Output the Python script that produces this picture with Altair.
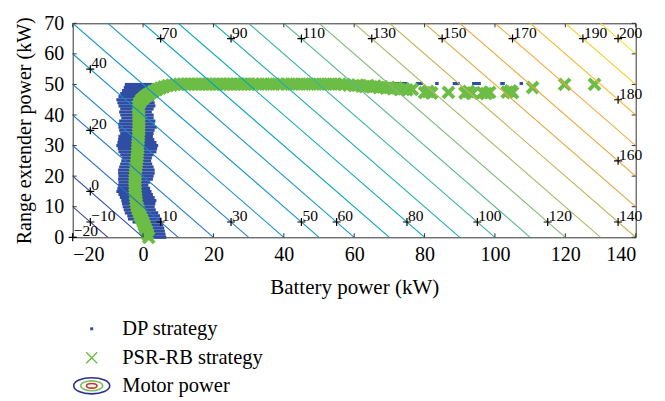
import altair as alt
import pandas as pd

# ---------------- data ----------------
x_ticks = [-20, 0, 20, 40, 60, 80, 100, 120, 140]
y_ticks = [0, 10, 20, 30, 40, 50, 60, 70]

# motor power contour levels (kW): battery + range extender = level
levels = [-10, 0, 10, 20, 30, 40, 50, 60, 70, 80, 90, 100, 110,
          120, 130, 140, 150, 160, 170, 180, 190, 200]

# contour labels
lab_x = [-20, -15, -15, -15, -15, 5, 25, 45, 55, 75, 95, 115, 135, 135, 135, 135,
         5, 25, 45, 65, 85, 105, 125]
lab_y = [0, 5, 15, 35, 55, 5, 5, 5, 5, 5, 5, 5, 5, 25, 45, 65,
         65, 65, 65, 65, 65, 65, 65]
lab_text = ["\u221220", "\u221210", "0", "20", "40", "10", "30", "50", "60", "80", "100",
            "120", "140", "160", "180", "200", "70", "90", "110", "130", "150", "170", "190"]

# DP strategy operating points (rows of the dense cloud + sparse dashes)
dp_y = [0, 1, 2, 3, 4, 5, 6, 7, 8, 9, 10, 11, 12, 13, 14, 15, 16, 17, 18, 19, 20,
        21, 22, 23, 24, 25, 26, 27, 28, 29, 30, 31, 32, 33, 34, 35, 36, 37, 38, 39, 40,
        41, 42, 43, 44, 45, 46, 47, 48, 49, 50,
        50.3, 50.3, 50.3, 50.3, 50.3, 50.3, 50.3]
dp_x1 = [2.5, 2.0, 1.5, 1.0, -1.0, -3.0, -4.3, -4.5, -5.2, -5.5, -5.8, -6.0, -6.2, -6.6,
         -7.0, -7.6, -7.3, -7.1, -7.0, -7.1, -7.0, -7.1, -7.1, -6.8, -6.5, -6.2, -6.0, -6.5,
         -7.0, -7.2, -7.6, -7.3, -7.1, -7.0, -6.5, -6.8, -7.0, -7.1, -6.8, -6.2, -6.5, -6.8,
         -6.5, -7.0, -7.3, -7.6, -7.0, -6.5, -6.0, -5.5, -5.2,
         69.5, 77.5, 83.0, 88.0, 93.5, 101.5, 107.0]
dp_x2 = [6.6, 6.4, 6.2, 6.0, 5.7, 5.4, 5.2, 4.8, 4.3, 3.6, 3.3, 3.5, 3.8, 3.3, 2.8, 2.4,
         2.0, 1.5, 2.0, 2.8, 3.0, 3.3, 3.3, 3.0, 2.6, 2.3, 2.5, 3.0, 3.8, 4.0, 4.3, 3.8, 3.2,
         2.8, 3.0, 3.3, 3.9, 3.3, 3.5, 3.0, 3.0, 2.5, 3.0, 3.5, 3.3, 3.0, 3.5, 3.9, 4.0,
         3.5, 3.0,
         75.0, 79.5, 84.0, 90.0, 96.0, 102.8, 108.0]

# PSR-RB strategy operating points
psr_x = [1.6, 1.3, 1.0, 0.6, 0.3, 0.0, -0.4, -0.8, -1.1, -1.4, -1.7, -1.9, -2.0, -2.1,
         -2.2, -2.2, -2.3, -2.3, -2.3, -2.3, -2.2, -2.2, -2.1, -2.0, -1.9, -1.8, -1.7, -1.6,
         -1.6, -1.5, -1.5, -1.4, -1.4, -1.3, -1.3, -1.2, -1.2, -1.2, -1.2, -1.2, -1.2, -1.2,
         -1.3,
         -1.4, -1.0, -0.4, 0.4, 1.2, 2.0, 2.9, 3.9, 4.9, 5.9, 7.0, 8.1, 9.2, 10.3,
         11.3, 12.3, 13.3, 14.3, 15.3, 16.3, 17.3, 18.3, 19.3, 20.3, 21.3, 22.3, 23.3, 24.3,
         25.3, 26.3, 27.3, 28.3, 29.3, 30.3, 31.3, 32.3,
         33.8, 35.3, 36.8, 38.3, 39.6, 41.0, 42.5, 44.0, 45.5, 47.0, 48.5, 50.0, 51.5, 53.0,
         54.5, 56.0, 57.2,
         58.5, 60.0, 61.0, 62.0, 63.0, 64.0, 65.0, 66.0, 67.0, 68.0, 69.0, 70.0, 71.0, 72.0,
         73.0, 74.0, 75.0, 76.5,
         80.0, 81.0, 82.0, 86.8, 91.5, 92.5, 93.5, 96.5, 97.5, 98.5, 103.5, 104.5, 105.0,
         110.7, 119.8, 128.3]
psr_y = [0, 1, 2, 3, 4, 5, 6, 7, 8, 9, 10, 11, 12, 13, 14, 15, 16, 17, 18, 19, 20, 21,
         22, 23, 24, 25, 26, 27, 28, 29, 30, 31, 32, 33, 34, 35, 36, 37, 38, 39, 40, 41, 42,
         43, 44, 45, 45.8, 46.5, 47.1, 47.7, 48.3, 48.8, 49.2, 49.6, 49.8, 50.0, 50.1,
         50.1, 50.1, 50.1, 50.1, 50.1, 50.1, 50.1, 50.1, 50.1, 50.1, 50.1, 50.1, 50.1, 50.1,
         50.1, 50.1, 50.1, 50.1, 50.1, 50.1, 50.1, 50.1,
         50.1, 50.1, 50.1, 50.1, 50.1, 50.1, 50.1, 50.1, 50.1, 50.1, 50.1, 50.1, 50.1, 50.1,
         50.1, 50.1, 50.0,
         49.8, 49.6, 49.8, 49.5, 49.3, 49.6, 49.2, 49.4, 49.0, 49.2, 48.8, 49.0, 48.6, 48.9,
         48.3, 48.6, 48.2, 48.4,
         47.3, 47.7, 47.2, 47.4, 47.2, 47.7, 47.1, 47.3, 47.0, 47.4, 47.5, 47.9, 47.3,
         49.0, 50.0, 50.0]

legend_labels = ["DP strategy", "PSR-RB strategy", "Motor power"]
# parula-like colormap stops (level -> colour)
cmap_levels = [-20, -10, 0, 10, 30, 60, 90, 110, 130, 150, 170, 190, 210]
cmap_colors = ["#352a87", "#3a3aa0", "#2f50b8", "#2a6ccc", "#2085d0", "#1a9bc8",
               "#1cadb0", "#5ab890", "#a8bc68", "#e0ac48", "#f5a83a", "#f8cf2a", "#f5f020"]

# ---------------- chart ----------------
W, H = 563, 214
FONT = "Liberation Serif"
BLUE = "#2f4ea3"
GREEN = "#6cbd45"
xs = alt.Scale(domain=[-20, 140], nice=False, zero=False)
ys = alt.Scale(domain=[0, 70], nice=False, zero=False)
AX = alt.Axis(values=x_ticks, title="Battery power (kW)", labelPadding=7, titlePadding=12,
              titleFontSize=21)
AY = alt.Axis(values=y_ticks, title="Range extender power (kW)", labelPadding=9,
              titlePadding=9, titleFontSize=20)

dp_df = pd.DataFrame({"y": dp_y, "x1": dp_x1, "x2": dp_x2})
psr_df = pd.DataFrame({"x": psr_x, "y": psr_y})
lev_df = pd.DataFrame({"level": levels})
lev_df["xa"] = lev_df["level"]          # crossing of y = 0
lev_df["xb"] = lev_df["level"] - 70     # crossing of y = 70
lev_df["ya"] = 0
lev_df["yb"] = 70
lab_df = pd.DataFrame({"x": lab_x, "y": lab_y, "t": lab_text})

dp = alt.Chart(dp_df).mark_rule(color=BLUE, strokeWidth=3.1).encode(
    x=alt.X("x1:Q", scale=xs, axis=AX),
    x2="x2:Q",
    y=alt.Y("y:Q", scale=ys, axis=AY),
)

X_SHAPE = "M-1,-1L1,1M-1,1L1,-1"
PLUS = "M-1,0L1,0M0,-1L0,1"
ELL = "M-1,0A1,0.45,0,1,1,1,0A1,0.45,0,1,1,-1,0Z"

psr = alt.Chart(psr_df).mark_point(shape=X_SHAPE, size=121, filled=False,
                                    strokeWidth=4, color=GREEN, opacity=1).encode(
    x=alt.X("x:Q", scale=xs, axis=AX),
    y=alt.Y("y:Q", scale=ys, axis=AY),
)

contours = alt.Chart(lev_df).mark_rule(strokeWidth=1.1, clip=True).encode(
    x=alt.X("xa:Q", scale=xs, axis=AX),
    x2="xb:Q",
    y=alt.Y("ya:Q", scale=ys, axis=AY),
    y2="yb:Q",
    color=alt.Color("level:Q", scale=alt.Scale(domain=cmap_levels, range=cmap_colors),
                    legend=None),
)

plus = alt.Chart(lab_df).mark_point(shape=PLUS, size=64, filled=False, strokeWidth=1.2,
                                    color="black", opacity=1).encode(
    x=alt.X("x:Q", scale=xs, axis=AX),
    y=alt.Y("y:Q", scale=ys, axis=AY),
)
labels = alt.Chart(lab_df).mark_text(align="left", baseline="alphabetic", dx=1, dy=-1,
                                     font=FONT, fontSize=15.5, color="black").encode(
    x=alt.X("x:Q", scale=xs, axis=AX),
    y=alt.Y("y:Q", scale=ys, axis=AY),
    text="t:N",
)

# inward ticks
xt_df = pd.DataFrame({"v": x_ticks})
yt_df = pd.DataFrame({"v": y_ticks})
TK = "#333333"
tick_b = alt.Chart(xt_df).mark_rule(color=TK).encode(
    x=alt.X("v:Q", scale=xs, axis=AX), y=alt.value(H), y2=alt.value(H - 4))
tick_t = alt.Chart(xt_df).mark_rule(color=TK).encode(
    x=alt.X("v:Q", scale=xs, axis=AX), y=alt.value(0), y2=alt.value(4))
tick_l = alt.Chart(yt_df).mark_rule(color=TK).encode(
    y=alt.Y("v:Q", scale=ys, axis=AY), x=alt.value(0), x2=alt.value(4))
tick_r = alt.Chart(yt_df).mark_rule(color=TK).encode(
    y=alt.Y("v:Q", scale=ys, axis=AY), x=alt.value(W), x2=alt.value(W - 4))

# legend (below plot)
one = pd.DataFrame({"a": [0]})
LX, TX = 19, 49.5
LY = [305.5, 334.5, 362.5]
leg_dp = alt.Chart(one).mark_point(shape="square", size=9, filled=True, color=BLUE,
                                   opacity=1).encode(x=alt.value(LX), y=alt.value(LY[0]))
leg_psr = alt.Chart(one).mark_point(shape=X_SHAPE, size=121, filled=False, strokeWidth=1.4,
                                    color=GREEN, opacity=1).encode(x=alt.value(LX), y=alt.value(LY[1]))
leg_e1 = alt.Chart(one).mark_point(shape=ELL, size=1296, filled=False, strokeWidth=1.6,
                                   color="#2b2f8f", opacity=1).encode(x=alt.value(LX), y=alt.value(LY[2]))
leg_e2 = alt.Chart(one).mark_point(shape=ELL, size=484, filled=False, strokeWidth=1.6,
                                   color="#7fbf5f", opacity=1).encode(x=alt.value(LX), y=alt.value(LY[2]))
leg_e3 = alt.Chart(one).mark_point(shape=ELL, size=110, filled=False, strokeWidth=1.6,
                                   color="#c0392b", opacity=1).encode(x=alt.value(LX), y=alt.value(LY[2]))
leg_txt = [
    alt.Chart(one).mark_text(text=legend_labels[i], align="left", baseline="middle",
                             font=FONT, fontSize=20.5, color="black").encode(
        x=alt.value(TX), y=alt.value(LY[i]))
    for i in range(3)
]

chart = alt.layer(
    dp, psr, contours, tick_b, tick_t, tick_l, tick_r, plus, labels,
    leg_dp, leg_psr, leg_e1, leg_e2, leg_e3, *leg_txt,
).properties(
    width=W, height=H,
    autosize=alt.AutoSizeParams(type="none"),
    padding={"left": 64.7, "top": 15.3, "right": 15, "bottom": 160},
).configure_view(
    stroke="#333333", strokeWidth=1,
).configure_axis(
    labelFont=FONT, labelFontSize=20, labelColor="black",
    titleFont=FONT, titleFontSize=20, titleFontWeight="normal", titleColor="black",
    ticks=False, domain=False, grid=False,
)

chart.save("out.html", embed_options={"renderer": "svg", "actions": False})
